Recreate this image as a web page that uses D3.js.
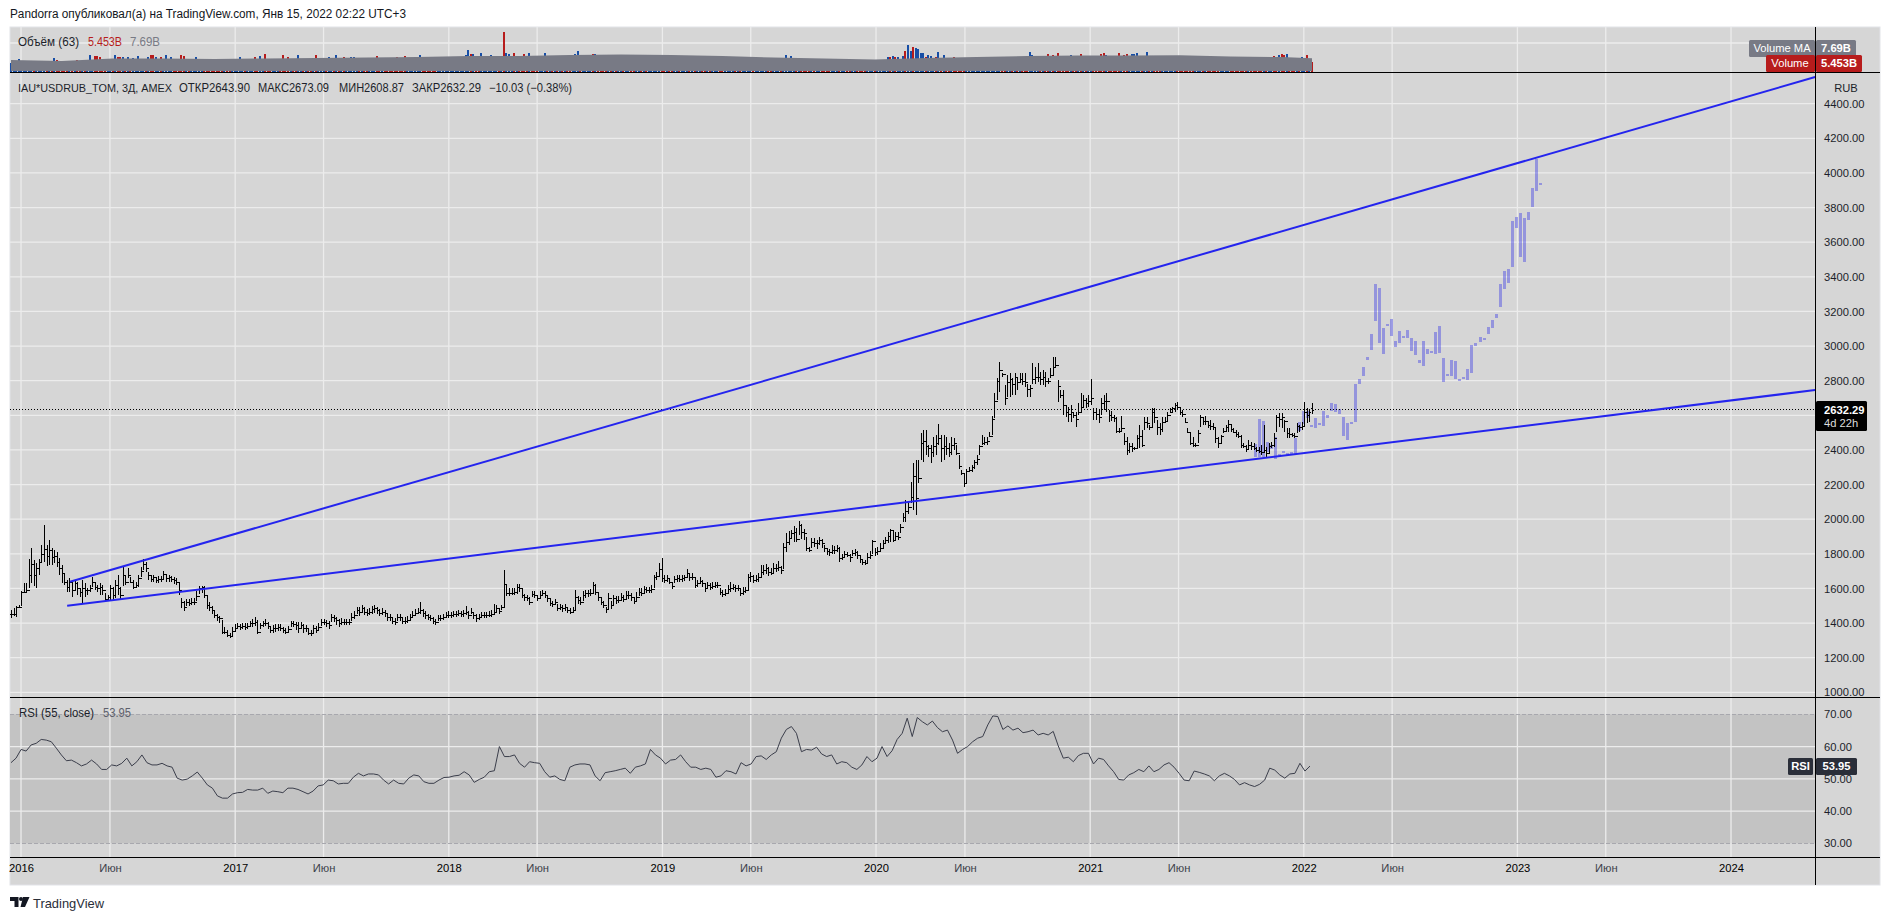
<!DOCTYPE html>
<html><head><meta charset="utf-8">
<script src="https://d3js.org/d3.v7.min.js"></script>
<style>html,body{margin:0;padding:0;background:#fff;overflow:hidden}svg{display:block}text{font-family:"Liberation Sans",Arial,sans-serif}</style>
</head><body><svg id="c" width="1890" height="920"></svg>
<script>
const barHighs=[
1475,1485,1498,1504,1587,1630,1633,1768,1832,1764,1745,1768,1851,1964,1851,1880,1832,1822,1812,1774,
1735,1687,1649,1658,1639,1649,1639,1600,1649,1630,1600,1620,1664,1639,1620,1630,1620,1572,1562,1620,
1610,1649,1678,1606,1730,1672,1716,1668,1649,1639,1678,1726,1768,1755,1697,
1680,1680,1668,1672,1672,1700,1680,1680,1672,1668,1660,1640,1545,1530,1540,1540,1545,1545,1585,1612,
1612,1612,1565,1520,1500,1470,1450,1440,1420,1375,1360,1340,1380,1395,1400,1395,1400,1400,1400,1415,
1425,1435,1420,1400,1415,1425,1405,1385,1390,1395,1395,1395,1380,1370,1385,1415,1415,1405,1405,1405,
1395,1390,1370,1360,1390,1385,1400,1425,1425,1420,1410,1450,1445,1435,1425,1430,1425,1425,1425,1460,
1470,1495,1495,1505,1495,1480,1490,1500,1505,1495,1480,1485,1475,1460,1455,1435,1430,1450,1450,1435,
1435,1440,1455,1470,1480,1490,1520,1480,1470,1455,1445,1435,1425,1445,1445,1455,1465,1470,1465,1470,
1470,1475,1470,1478,1500,1470,1490,1465,1450,1455,1465,1465,1465,1470,1475,1510,1505,1490,1505,1706,
1625,1600,1600,1600,1625,1625,1605,1570,1565,1550,1585,1585,1565,1585,1590,1585,1565,1545,1530,1540,
1510,1510,1505,1510,1495,1485,1495,1590,1555,1550,1585,1590,1590,1595,1635,1625,1575,1545,1525,1495,
1575,1530,1565,1555,1555,1575,1560,1585,1585,1575,1550,1580,1600,1600,1615,1610,1610,1620,1680,1695,
1745,1774,1680,1675,1660,1640,1670,1675,1675,1675,1680,1712,1690,1690,1660,1650,1665,1650,1625,1640,
1630,1635,1640,1640,1605,1590,1595,1620,1640,1625,1620,1620,1595,1610,1610,1685,1695,1675,1675,1690,
1735,1735,1740,1725,1720,1750,1740,1760,1730,1860,1920,1930,1940,1960,1950,1990,1975,1945,1900,1840,
1890,1890,1880,1900,1885,1850,1835,1830,1850,1845,1850,1840,1800,1815,1810,1800,1825,1830,1815,1790,
1770,1765,1805,1815,1880,1835,1840,1860,
1880,1899,1928,1941,1937,1928,1928,1972,2034,2111,2101,2217,2322,2341,2341,2496,2515,2515,2428,2428,
2476,2486,2548,2486,2486,2476,2438,2476,2467,2428,2370,2284,2265,2293,2303,2313,2342,2370,2428,2486,
2476,2476,2505,2596,2727,2813,2910,2842,2775,2833,2842,2813,2842,2813,2842,2842,2842,2784,2775,2900,
2881,2904,2852,2861,2852,2813,2871,2935,2935,2804,2746,2746,2659,2650,2659,2621,2621,2669,2727,2717,
2698,2717,2808,2640,2640,2630,2698,2717,2727,2630,2625,2602,2592,2525,2596,2496,2476,2438,2438,2419,2486,
2544,2515,2592,2592,2544,2640,2640,2573,2553,2592,2592,2621,2640,2650,2669,2679,2650,2630,2582,2525,
2496,2476,2438,2515,2602,2582,2596,2563,2573,2553,2525,2476,2486,2525,2544,2573,2544,2525,2515,2505,
2486,2438,2428,2457,2448,2438,2419,2415,2428,2544,2419,2438,2448,2496,2602,2611,2611,2573,2525,2525,2496,
2496,2553,2544,2563,2675,2640,2630,2673.09];
const barLows=[
1427,1441,1437,1485,1498,1572,1576,1600,1630,1614,1600,1678,1745,1755,1730,1735,1735,1745,1726,1678,
1630,1620,1581,1581,1552,1591,1562,1552,1510,1552,1562,1581,1606,1591,1581,1562,1562,1524,1533,1533,
1533,1543,1562,1533,1614,1620,1658,1630,1595,1601,1610,1668,1706,1697,1649,
1635,1640,1630,1630,1635,1650,1640,1640,1635,1625,1620,1560,1490,1470,1500,1500,1505,1505,1530,1570,
1575,1545,1480,1470,1450,1430,1415,1400,1335,1335,1320,1315,1325,1350,1365,1360,1365,1360,1365,1380,
1380,1385,1335,1365,1380,1385,1365,1340,1345,1350,1355,1355,1345,1335,1345,1375,1375,1360,1345,1365,
1345,1350,1330,1325,1345,1340,1355,1385,1390,1380,1365,1405,1405,1390,1380,1390,1390,1390,1390,1415,
1425,1450,1440,1460,1445,1440,1445,1455,1460,1455,1440,1445,1435,1415,1410,1395,1390,1415,1415,1395,
1395,1400,1420,1430,1440,1450,1455,1435,1425,1420,1410,1395,1390,1410,1410,1420,1430,1430,1430,1435,
1435,1440,1435,1438,1445,1425,1450,1425,1405,1420,1430,1430,1430,1435,1435,1450,1465,1455,1475,1491,
1555,1555,1560,1560,1570,1580,1545,1530,1525,1505,1550,1545,1525,1545,1555,1545,1520,1500,1495,1505,
1470,1475,1465,1470,1460,1450,1460,1475,1510,1505,1530,1545,1550,1555,1570,1565,1530,1505,1485,1460,
1480,1480,1505,1510,1515,1530,1520,1540,1540,1530,1510,1530,1555,1555,1575,1575,1575,1575,1600,1650,
1670,1640,1630,1640,1625,1595,1630,1640,1635,1640,1645,1665,1645,1650,1600,1610,1625,1610,1580,1600,
1590,1595,1600,1600,1560,1550,1555,1575,1580,1590,1580,1585,1555,1565,1575,1585,1640,1630,1635,1640,
1665,1675,1685,1670,1675,1690,1695,1700,1685,1715,1810,1850,1890,1870,1870,1910,1885,1880,1815,1810,
1835,1840,1830,1850,1835,1810,1795,1790,1800,1800,1810,1755,1765,1775,1780,1755,1785,1790,1770,1750,
1735,1735,1745,1770,1800,1790,1795,1810,
1826,1857,1864,1870,1870,1880,1880,1918,1985,1985,2030,2091,2053,2024,2207,2342,2332,2370,2361,2322,
2361,2370,2428,2332,2342,2370,2361,2370,2399,2370,2293,2255,2188,2207,2274,2274,2293,2313,2370,2428,
2428,2428,2476,2486,2582,2688,2736,2823,2659,2707,2707,2717,2717,2746,2794,2775,2765,2707,2707,2784,
2784,2794,2775,2775,2765,2784,2813,2833,2881,2679,2698,2602,2592,2563,2563,2582,2534,2602,2621,2640,
2640,2650,2659,2573,2573,2553,2602,2630,2621,2563,2570,2563,2496,2496,2505,2428,2370,2380,2390,2400,2409,
2409,2419,2515,2525,2515,2534,2553,2486,2486,2505,2553,2563,2611,2621,2621,2630,2602,2592,2553,2496,
2428,2419,2419,2438,2534,2544,2544,2525,2515,2515,2438,2409,2438,2496,2505,2505,2505,2496,2476,2467,
2409,2409,2390,2399,2399,2399,2390,2385,2370,2380,2351,2380,2409,2419,2505,2534,2525,2505,2467,2467,2476,
2467,2496,2505,2515,2534,2553,2563,2608.87];
const barCloses=[
1450,1455,1490,1495,1580,1580,1590,1680,1740,1680,1720,1750,1800,1830,1790,1820,1780,1790,1750,1720,
1690,1640,1610,1640,1590,1630,1600,1580,1600,1590,1590,1600,1640,1610,1600,1610,1590,1540,1550,1600,
1560,1620,1600,1560,1680,1640,1680,1640,1610,1620,1660,1700,1740,1720,1680,
1655,1664,1649,1653,1653,1683,1658,1664,1653,1649,1639,1591,1524,1495,1524,1518,1524,1524,1556,1600,
1606,1562,1504,1495,1475,1447,1433,1427,1350,1350,1331,1325,1356,1370,1383,1379,1383,1379,1383,1398,
1402,1408,1350,1389,1398,1402,1383,1360,1370,1370,1379,1370,1360,1350,1364,1398,1395,1389,1370,1389,
1370,1370,1345,1341,1370,1360,1379,1408,1408,1398,1389,1433,1427,1418,1402,1408,1408,1408,1408,1437,
1447,1475,1466,1485,1466,1460,1466,1479,1485,1475,1460,1466,1456,1437,1433,1414,1408,1437,1433,1414,
1414,1418,1437,1447,1460,1466,1475,1456,1447,1437,1427,1414,1408,1427,1427,1437,1447,1447,1447,1452,
1452,1456,1452,1456,1466,1447,1466,1447,1427,1437,1447,1447,1447,1447,1452,1466,1485,1472,1491,1624,
1576,1576,1576,1581,1606,1600,1562,1549,1543,1524,1568,1562,1543,1562,1572,1562,1543,1518,1510,1524,
1485,1491,1485,1491,1475,1466,1475,1552,1533,1524,1562,1572,1572,1576,1620,1581,1549,1524,1504,1479,
1543,1504,1543,1533,1533,1552,1537,1562,1562,1552,1529,1552,1581,1576,1595,1591,1591,1595,1664,1672,
1710,1658,1649,1658,1639,1614,1653,1658,1653,1658,1664,1691,1664,1668,1620,1630,1645,1630,1600,1620,
1606,1614,1620,1620,1581,1568,1572,1595,1600,1606,1600,1600,1572,1587,1591,1664,1672,1649,1653,1664,
1697,1706,1716,1697,1691,1716,1716,1726,1706,1841,1870,1889,1922,1928,1884,1966,1928,1922,1832,1822,
1870,1860,1860,1880,1860,1832,1818,1812,1822,1822,1832,1774,1783,1799,1793,1780,1803,1812,1793,1768,
1755,1749,1783,1793,1876,1812,1818,1832,
1860,1880,1900,1935,1880,1900,1895,1955,2010,2050,2070,2130,2250,2120,2240,2440,2450,2420,2410,2390,
2420,2440,2470,2410,2420,2410,2390,2430,2440,2385,2310,2265,2210,2280,2285,2300,2330,2345,2420,2440,
2445,2450,2480,2580,2680,2800,2860,2840,2700,2790,2810,2780,2820,2790,2810,2800,2790,2750,2760,2810,
2820,2820,2810,2820,2800,2800,2830,2880,2890,2770,2720,2660,2620,2610,2620,2600,2580,2620,2650,2690,
2670,2680,2700,2620,2610,2590,2670,2680,2680,2600,2590,2585,2510,2510,2525,2450,2400,2420,2410,2410,2470,
2480,2430,2560,2555,2530,2620,2590,2530,2520,2560,2570,2600,2620,2640,2660,2650,2620,2610,2560,2505,
2440,2430,2430,2500,2590,2565,2570,2545,2540,2530,2470,2440,2480,2510,2530,2550,2520,2505,2490,2480,
2430,2425,2405,2430,2420,2410,2400,2395,2390,2400,2385,2420,2430,2470,2590,2580,2590,2565,2500,2490,2485,
2480,2540,2535,2540,2620,2600,2620,2632.29];
const lastOpen=2643.90;

const patternHighs=[2435,2579,2570,2445,2431,2477,2377,2396,2381,2387,2470,2560,2627,2627,2545,2585,2554,2627,2604,2672,2666,2637,2593,2556,2564,2778,2810,2878,2935,3070,3359,3336,3105,3128,3157,3032,3088,3061,3093,3047,3030,2920,3030,2984,2970,3082,3116,2932,2839,2920,2914,2812,2824,2868,3007,3018,3053,3049,3111,3151,3186,3359,3434,3446,3723,3746,3769,3740,3775,3913,4081,3942];
const patternLows=[2358,2358,2358,2387,2406,2348,2358,2381,2371,2377,2377,2512,2550,2585,2531,2525,2549,2541,2583,2624,2618,2608,2483,2458,2550,2560,2781,2826,2920,2978,3143,3016,2955,3115,3057,2993,3016,3051,3045,2970,2947,2903,2884,2955,2964,2955,2959,2793,2826,2826,2808,2801,2818,2803,2843,2999,3024,3045,3068,3103,3161,3224,3328,3363,3455,3680,3513,3484,3729,3802,3896,3929];

const rsiValues=[55.0,56.4,59.1,58.6,60.5,61.0,62.2,62.0,61.5,59.5,57.4,55.6,55.8,55.0,54.0,54.6,55.8,54.6,52.9,52.9,54.3,54.0,54.8,56.4,54.0,55.3,57.4,55.0,54.3,54.3,54.8,54.0,53.6,50.2,49.6,49.9,50.9,52.1,50.2,48.1,47.1,44.7,44.0,44.0,45.3,45.7,45.8,46.7,46.5,46.5,47.1,45.5,46.2,46.0,45.7,47.1,47.1,46.7,46.0,45.3,46.2,47.8,48.1,49.6,49.4,48.4,48.6,48.6,50.5,51.7,50.9,51.5,51.5,51.2,49.6,48.4,49.6,48.6,48.4,50.2,51.2,50.9,49.1,48.6,48.6,49.6,50.4,50.5,50.9,51.1,52.2,51.2,48.9,49.8,50.5,52.2,52.5,60.0,56.9,56.9,57.4,54.8,53.6,55.3,55.0,54.8,52.2,50.5,50.9,49.8,49.4,53.6,54.3,54.6,54.6,54.3,50.9,49.4,51.9,52.2,52.5,52.9,53.3,51.7,53.6,54.0,54.6,59.1,57.4,56.4,54.6,55.8,56.0,57.4,55.3,53.6,
53.6,52.9,53.3,52.9,50.5,50.9,52.5,52.2,51.5,55.0,54.0,54.6,56.9,57.1,56.0,57.4,58.4,62.6,65.3,66.2,64.1,58.4,59.1,58.9,59.8,57.7,56.9,57.4,54.6,55.3,55.0,53.6,52.9,54.3,56.9,55.3,56.4,60.0,56.9,58.7,62.2,64.1,68.8,63.1,69.0,67.7,66.7,67.9,65.9,64.6,65.1,62.0,57.9,59.1,60.0,61.5,62.6,63.1,66.7,69.5,69.3,65.3,66.4,65.1,65.7,64.3,64.6,65.1,63.6,64.1,63.6,64.7,60.2,56.4,56.7,55.3,57.2,57.9,57.9,54.6,56.4,56.0,54.0,52.2,49.8,49.6,51.2,51.9,52.9,52.2,54.0,52.2,52.9,54.3,55.0,53.6,51.7,49.6,49.4,52.4,52.0,51.5,50.9,49.4,50.9,51.7,50.9,49.8,48.1,48.8,48.1,47.6,48.3,49.6,53.3,52.7,51.2,50.2,51.5,51.7,54.8,52.4,53.95];

const volumeIndex=[3,17,18,26,31,33,34,35,41,42,43,44,46,47,48,50,54,55,56,57,59,61,63,67,68,73,90,96,98,100,107,109,113,120,125,128,131,134,135,144,152,155,161,177,179,180,181,182,184,185,188,189,194,195,196,198,202,204,205,210,212,217,222,223,229,230,276,295,305,307,308,345,346,347,348,349,351,352,353,354,355,356,357,358,359,360,361,362,364,365,367,371,401,402,408,410,412,417,421,429,430,431,436,438,439,441,442,443,447,493,497,498,499,500,501,502,508,510,512];
const volumeValue=[7.2,7.7,6.8,6.8,9.5,9,9,8.2,9.5,8.2,8.2,8.2,8.6,7.2,7.7,9,8.2,9.5,9.5,8.6,8.2,9.5,8.2,9.5,9,8.2,8.6,8.6,9,10.1,9.5,8.2,9.5,9.5,8.2,9.5,8.6,8.2,8.2,9,8.2,9,9.5,8.2,9.5,12.4,9.9,10.1,9,10.9,9,9.5,22.3,10.5,9.9,10.5,9.9,10.5,9,10.5,9,9,9.9,11.8,9.9,9.9,8.8,7.7,9.4,8.8,7.7,8.3,8.3,9,8.3,8.3,9,11.8,15.2,11.8,14,13.3,12.9,10.5,10.5,8.3,9.5,9,8.3,11,9.5,8.3,11,9.5,9.9,9.5,10.5,9.4,10.1,9.9,10.5,9.5,10.5,9.5,9.9,9.9,9.9,10.5,11,8.3,9,8.6,9.5,9.9,9.5,9.9,8.3,9.5,5.453];
const volumeDir="bbrrbrrrbrrbbrbbbrrbrbbrrbbrbrrrbrbbrbbrrrbbbbrbrbbbrbbrrbrbbrbbrbbbbbbbrbrbbrbbrbbbbrbbrbbrbbrrrbrrrbrrrbbbbbrrbrrbbr";
const hiddenVolume=5;

const maIndex=[0,20,40,60,80,100,120,140,160,180,200,220,240,260,280,300,320,340,360,380,400,420,440,460,480,500,512];
const maValue=[6.7,6.2,7.6,7.6,7.3,7.6,7.9,8.1,8.4,9.0,9.0,9.6,9.8,9.6,9.0,8.1,7.6,7.0,7.9,8.4,9.0,9.3,9.3,9.4,8.7,8.4,7.69];

const priceTicks=[1000,1200,1400,1600,1800,2000,2200,2400,2600,2800,3000,3200,3400,3600,3800,4000,4200,4400];
const rsiTicks=[30,40,50,60,70];
const timeTicks=[["2016-01-01","2016"],["2016-06-01","Июн"],["2017-01-01","2017"],["2017-06-01","Июн"],["2018-01-01","2018"],["2018-06-01","Июн"],["2019-01-01","2019"],["2019-06-01","Июн"],["2020-01-01","2020"],["2020-06-01","Июн"],["2021-01-01","2021"],["2021-06-01","Июн"],["2022-01-01","2022"],["2022-06-01","Июн"],["2023-01-01","2023"],["2023-06-01","Июн"],["2024-01-01","2024"]];
const upperTrend=[[23.2,1639],[710,4554]];
const lowerTrend=[[22.1,1500],[710,2746]];
const lastPrice=2632.29, lastRsi=53.95;

const svg=d3.select("#c");
const L=10,R=1880,AX=1815,T=27,B=885;
const n=barCloses.length;
const barX=d3.scaleLinear().domain([0,n-1]).range([11,1312]);
const timeX=d3.scaleUtc().domain([new Date("2016-01-01"),new Date("2024-01-01")]).range([21,1731]);
const priceY=d3.scaleLinear().domain([1000,4400]).range([692.3,103.7]);
const rsiY=d3.scaleLinear().domain([30,70]).range([843.3,714.3]);
const volY=d3.scaleLinear().domain([0,7.69]).range([72,58.3]);

svg.append("rect").attr("x",L).attr("y",T).attr("width",R-L).attr("height",B-T).attr("fill","#d6d6d6").attr("stroke","#e2e3e8");
svg.append("rect").attr("x",L).attr("y",rsiY(70)).attr("width",AX-L).attr("height",rsiY(30)-rsiY(70)).attr("fill","#c3c3c3");

// grid
const gridC="#ececec";
const gv=svg.append("g").attr("stroke",gridC).attr("stroke-width",1.3);
timeTicks.forEach(t=>{const x=timeX(new Date(t[0]));
  if(x>L) gv.append("line").attr("x1",x).attr("x2",x).attr("y1",T).attr("y2",857);});
const gh=svg.append("g").attr("stroke",gridC).attr("stroke-width",1.3);
priceTicks.forEach(p=>gh.append("line").attr("x1",L).attr("x2",AX).attr("y1",priceY(p)).attr("y2",priceY(p)));
[40,50,60].forEach(p=>gh.append("line").attr("x1",L).attr("x2",AX).attr("y1",rsiY(p)).attr("y2",rsiY(p)));
gh.append("line").attr("x1",L).attr("x2",AX).attr("y1",43).attr("y2",43);
[30,70].forEach(p=>svg.append("line").attr("x1",L).attr("x2",AX).attr("y1",rsiY(p)).attr("y2",rsiY(p)).attr("stroke","#a8a8ae").attr("stroke-dasharray","4 2").attr("shape-rendering","crispEdges"));

// volume
const volMap=new Map(volumeIndex.map((k,i)=>[k,i]));
const blue="#174ea6",red="#b71c1c";
const vg=svg.append("g").attr("shape-rendering","crispEdges");
barCloses.forEach((c,i)=>{
  const open=i===n-1?lastOpen:(i?barCloses[i-1]:c);
  const j=volMap.get(i);
  const v=j===undefined?hiddenVolume:volumeValue[j];
  const col=j===undefined?(c>=open?blue:red):(volumeDir[j]==="b"?blue:red);
  vg.append("rect").attr("x",barX(i)-1).attr("width",2).attr("y",volY(v)).attr("height",volY(0)-volY(v)).attr("fill",col);
});
const maArea=d3.area().x((d,i)=>barX(maIndex[i])).y0(volY(0.55)).y1(d=>volY(d));
svg.append("path").attr("d",maArea(maValue)).attr("fill","#787a85");

// pattern (ghost bars)
const patX=d3.scaleLinear().domain([0,patternHighs.length-1]).range([barX(489.7),barX(601.8)]);
const pg=svg.append("g").attr("fill","rgba(50,50,230,0.4)").attr("shape-rendering","crispEdges");
patternHighs.forEach((h,i)=>{
  const y0=priceY(h),y1=priceY(patternLows[i]);
  pg.append("rect").attr("x",patX(i)-1.5).attr("width",3).attr("y",y0).attr("height",Math.max(2,y1-y0));
});

// last price line
svg.append("line").attr("x1",L).attr("x2",AX).attr("y1",priceY(lastPrice)).attr("y2",priceY(lastPrice)).attr("stroke","#000").attr("stroke-dasharray","1 2").attr("shape-rendering","crispEdges");

// OHLC bars
let dPath="";
barCloses.forEach((c,i)=>{
  const x=Math.round(barX(i))+0.5;
  const open=i===n-1?lastOpen:(i?barCloses[i-1]:c);
  const yo=Math.round(priceY(open))+0.5,yc=Math.round(priceY(c))+0.5;
  dPath+=`M${x},${priceY(barHighs[i]).toFixed(1)}V${priceY(barLows[i]).toFixed(1)}M${x-1.5},${yo}H${x}M${x},${yc}H${x+1.5}`;
});
svg.append("path").attr("d",dPath).attr("fill","none").attr("stroke","#000").attr("stroke-width",1).attr("shape-rendering","crispEdges");

// trend lines
const trend=d3.line().x(d=>barX(d[0])).y(d=>priceY(d[1]));
[upperTrend,lowerTrend].forEach(t=>svg.append("path").attr("d",trend(t)).attr("fill","none").attr("stroke","#2424ee").attr("stroke-width",2));

// RSI line
const rsiX=d3.scaleLinear().domain([0,rsiValues.length-1]).range([11,1310]);
svg.append("path").attr("d",d3.line().x((d,i)=>rsiX(i)).y(d=>rsiY(d))(rsiValues)).attr("fill","none").attr("stroke","#3b3e4b").attr("stroke-width",1);

// separators
const sep=svg.append("g").attr("stroke","#000").attr("shape-rendering","crispEdges");
[72.5,697.5,857.5].forEach(y=>sep.append("line").attr("x1",L).attr("x2",R).attr("y1",y).attr("y2",y));
sep.append("line").attr("x1",AX+.5).attr("x2",AX+.5).attr("y1",T).attr("y2",B);

// axes (the 2600 label sits under the last-price badge, as in the reference)
const fs=11.2;
const pa=svg.append("g").attr("transform",`translate(${AX},0)`).call(d3.axisRight(priceY).tickValues(priceTicks.filter(p=>p!==2600)).tickFormat(d3.format(".2f")).tickSize(0).tickPadding(9));
const ra=svg.append("g").attr("transform",`translate(${AX},0)`).call(d3.axisRight(rsiY).tickValues(rsiTicks).tickFormat(d3.format(".2f")).tickSize(0).tickPadding(9));
[pa,ra].forEach(a=>{a.select(".domain").remove();a.selectAll("text").attr("fill","#1c1f2a").style("font-size",fs+"px").style("font-family","'Liberation Sans'");});
const labelByDate=new Map(timeTicks.map(t=>[+new Date(t[0]),t[1]]));
const xa=svg.append("g").attr("transform","translate(0,857)").call(d3.axisBottom(timeX).tickValues(timeTicks.map(t=>new Date(t[0]))).tickFormat(d=>labelByDate.get(+d)).tickSize(0).tickPadding(7));
xa.select(".domain").remove();
xa.selectAll("text").style("font-family","'Liberation Sans'").style("font-size",fs+"px")
  .attr("fill",d=>labelByDate.get(+d)==="Июн"?"#3c3f4a":"#000");

function txt(x,y,s,o={}){const t=svg.append("text").attr("x",x).attr("y",y).attr("dy","0.35em").attr("text-anchor",o.a||"start").attr("fill",o.c||"#1c1f2a").attr("font-size",o.s||12).attr("font-weight",o.w||400).text(s);
  if(o.l) t.attr("textLength",o.l).attr("lengthAdjust","spacingAndGlyphs");return t;}
txt(10,14,"Pandorra опубликовал(а) на TradingView.com, Янв 15, 2022 02:22 UTC+3",{c:"#131722",l:396});
txt(18,42,"Объём (63)",{l:61});
txt(88,42,"5.453B",{c:"#b71c1c",l:34});
txt(130,42,"7.69B",{c:"#787a85",l:30});
txt(18,88,"IAU*USDRUB_TOM, 3Д, AMEX",{l:154,s:10.7});
txt(179,88,"ОТКР2643.90",{l:71});
txt(258,88,"МАКС2673.09",{l:71});
txt(339,88,"МИН2608.87",{l:65});
txt(412,88,"ЗАКР2632.29",{l:69});
txt(489,88,"−10.03 (−0.38%)",{l:83});
txt(19,713,"RSI (55, close)",{l:75});
txt(103,713,"53.95",{c:"#5d606b",l:28});
txt(1846,88,"RUB",{a:"middle",s:fs});

// badges
function box(x,y,w,h,c){svg.append("rect").attr("x",x).attr("y",y).attr("width",w).attr("height",h).attr("fill",c).attr("rx",1.5);}
box(1749,40,66,17,"#787a85");box(1816,40,40,17,"#787a85");
txt(1782,48.5,"Volume MA",{a:"middle",c:"#fff",s:fs});txt(1836,48.5,"7.69B",{a:"middle",c:"#fff",s:fs,w:600});
box(1766,55,49,17,"#b71c1c");box(1816,55,46,17,"#b71c1c");
txt(1790,63.5,"Volume",{a:"middle",c:"#fff",s:fs});txt(1839,63.5,"5.453B",{a:"middle",c:"#fff",s:fs,w:600});
box(1816,401,51,30,"#000");
txt(1824,410,"2632.29",{c:"#fff",s:fs,w:700});txt(1824,423,"4d 22h",{c:"#dddddd",s:fs});
box(1788,758,25,17,"#2a2e39");box(1816,758,41,17,"#2a2e39");
txt(1800.5,766.5,"RSI",{a:"middle",c:"#fff",s:fs,w:600});txt(1836.5,766.5,"53.95",{a:"middle",c:"#fff",s:fs,w:600});

// logo
const lg=svg.append("g").attr("transform","translate(10,897)").attr("fill","#131722");
lg.append("path").attr("d","M0,0H8.5V10H4.5V4H0ZM13,0H19.5L15,10H10.5Z");
lg.append("circle").attr("cx",11).attr("cy",2).attr("r",2);
txt(33,903,"TradingView",{s:13,c:"#2a2e39",l:71});
</script></body></html>
